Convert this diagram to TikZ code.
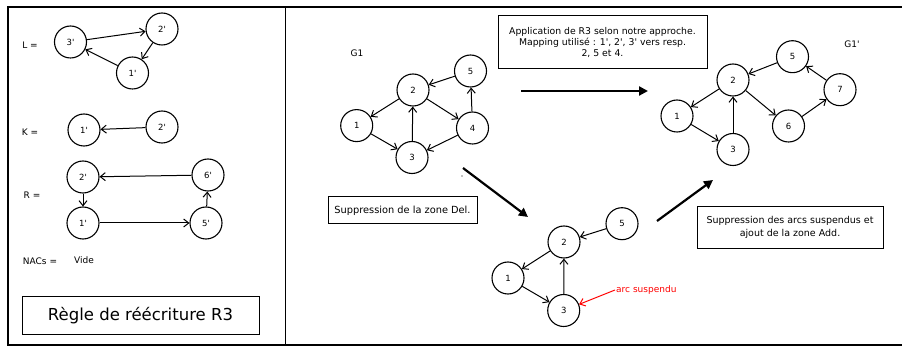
\documentclass[tikz,border=0pt]{standalone}
\usepackage{fontspec}
\newfontfamily\dv{DejaVu Sans}
\setmainfont{DejaVu Sans}
\usetikzlibrary{arrows.meta}
\begin{document}
\begin{tikzpicture}[x=1pt,y=-1pt,
 vtx/.style={draw,circle,line width=1.1pt,minimum size=32pt,inner sep=0pt,font=\dv\fontsize{8.5}{10}\selectfont},
 edge/.style={-{Straight Barb[length=5pt,width=8pt]},line width=1pt},
 big/.style={-{Triangle[length=9pt,width=9pt]},line width=2.2pt},
 lbl/.style={font=\dv\fontsize{9}{10}\selectfont},
 txtbox/.style={draw,line width=1pt,font=\dv\fontsize{9.5}{12}\selectfont,align=center,inner sep=0pt}
]
\useasboundingbox (0,0) rectangle (902,347);
% frame
\draw[line width=1.1pt] (8,7) rectangle (906,345);
\draw[line width=1.1pt] (285.5,7) -- (285.5,345);

% ---------- left panel ----------
\node[lbl] (Llbl) at (30,45) {L =};
\node[vtx] (l3) at (70.5,42) {3'};
\node[vtx] (l2) at (162,29) {2'};
\node[vtx] (l1) at (132.5,73) {1'};
\draw[edge] (l3) -- (l2);
\draw[edge] (l2) -- (l1);
\draw[edge] (l1) -- (l3);

\node[lbl] (Klbl) at (30,132) {K =};
\node[vtx] (k1) at (84,130) {1'};
\node[vtx] (k2) at (162,127) {2'};
\draw[edge] (k2) -- (k1);

\node[lbl] (Rlbl) at (32,195) {R =};
\node[vtx] (r2) at (83,177) {2'};
\node[vtx] (r6) at (208,175) {6'};
\node[vtx] (r1) at (83,223) {1'};
\node[vtx] (r5) at (206,223) {5'};
\draw[edge] (r6) -- (r2);
\draw[edge] (r2) -- (r1);
\draw[edge] (r1) -- (r5);
\draw[edge] (r5) -- (r6);

\node[lbl] (Nlbl) at (40,261) {NACs =};
\node[lbl] (vide) at (84,260) {Vide};

\node[draw,line width=1pt,minimum width=237pt,minimum height=37.5pt,inner sep=0pt,font=\dv\fontsize{16.5}{18}\selectfont] (regle) at (140.5,315.5) {Règle de réécriture R3};

% ---------- G1 ----------
\node[lbl] (g1lbl) at (357,53) {G1};
\node[vtx] (a1) at (356.7,125.6) {1};
\node[vtx] (a2) at (413,90) {2};
\node[vtx] (a5) at (470.5,71) {5};
\node[vtx] (a4) at (472.5,128) {4};
\node[vtx] (a3) at (412,157.5) {3};
\draw[edge] (a5) -- (a2);
\draw[edge] (a2) -- (a1);
\draw[edge] (a1) -- (a3);
\draw[edge] (a3) -- (a2);
\draw[edge] (a2) -- (a4);
\draw[edge] (a4) -- (a5);
\draw[edge] (a4) -- (a3);
\fill (462,176) circle (0.6pt);

\node[txtbox,minimum width=149pt,minimum height=27pt,font=\dv\fontsize{9.8}{12}\selectfont] (delbox) at (402.5,210.5) {Suppression de la zone Del.};
\node[txtbox,minimum width=209pt,minimum height=53pt,font=\dv\fontsize{9.3}{11.3}\selectfont] (appbox) at (602.5,42.5) {Application de R3 selon notre approche.\\Mapping utilisé : 1', 2', 3' vers resp.\\2, 5 et 4.};

\coordinate (h1) at (521,91);
\coordinate (h2) at (648,91);
\draw[big] (h1) -- (h2);
\coordinate (d1) at (463,168);
\coordinate (d2) at (528,217);
\draw[big] (d1) -- (d2);

% ---------- middle graph ----------
\node[vtx] (m5) at (622,223.7) {5};
\node[vtx] (m2) at (564,242) {2};
\node[vtx] (m1) at (508,278) {1};
\node[vtx] (m3) at (563.7,310.5) {3};
\draw[edge] (m5) -- (m2);
\draw[edge] (m2) -- (m1);
\draw[edge] (m1) -- (m3);
\draw[edge] (m3) -- (m2);
\node[lbl,text=red,anchor=west,inner sep=1pt] (arclbl) at (615,290) {arc suspendu};
\draw[edge,red] (arclbl.west) -- (m3);

\coordinate (u1) at (657,221);
\coordinate (u2) at (713,180);
\draw[big] (u1) -- (u2);

% ---------- G1' ----------
\node[lbl] (g1plbl) at (852,44) {G1'};
\node[vtx] (b5) at (792.5,56.7) {5};
\node[vtx] (b2) at (733,80) {2};
\node[vtx] (b1) at (677,116) {1};
\node[vtx] (b3) at (733,149.5) {3};
\node[vtx] (b6) at (788.5,126) {6};
\node[vtx] (b7) at (840,89.7) {7};
\draw[edge] (b5) -- (b2);
\draw[edge] (b2) -- (b1);
\draw[edge] (b1) -- (b3);
\draw[edge] (b3) -- (b2);
\draw[edge] (b2) -- (b6);
\draw[edge] (b6) -- (b7);
\draw[edge] (b7) -- (b5);

\node[txtbox,minimum width=186pt,minimum height=41.5pt,font=\dv\fontsize{9.5}{12.6}\selectfont] (addbox) at (790,227.5) {Suppression des arcs suspendus et\\ajout de la zone Add.};
\end{tikzpicture}
\end{document}
